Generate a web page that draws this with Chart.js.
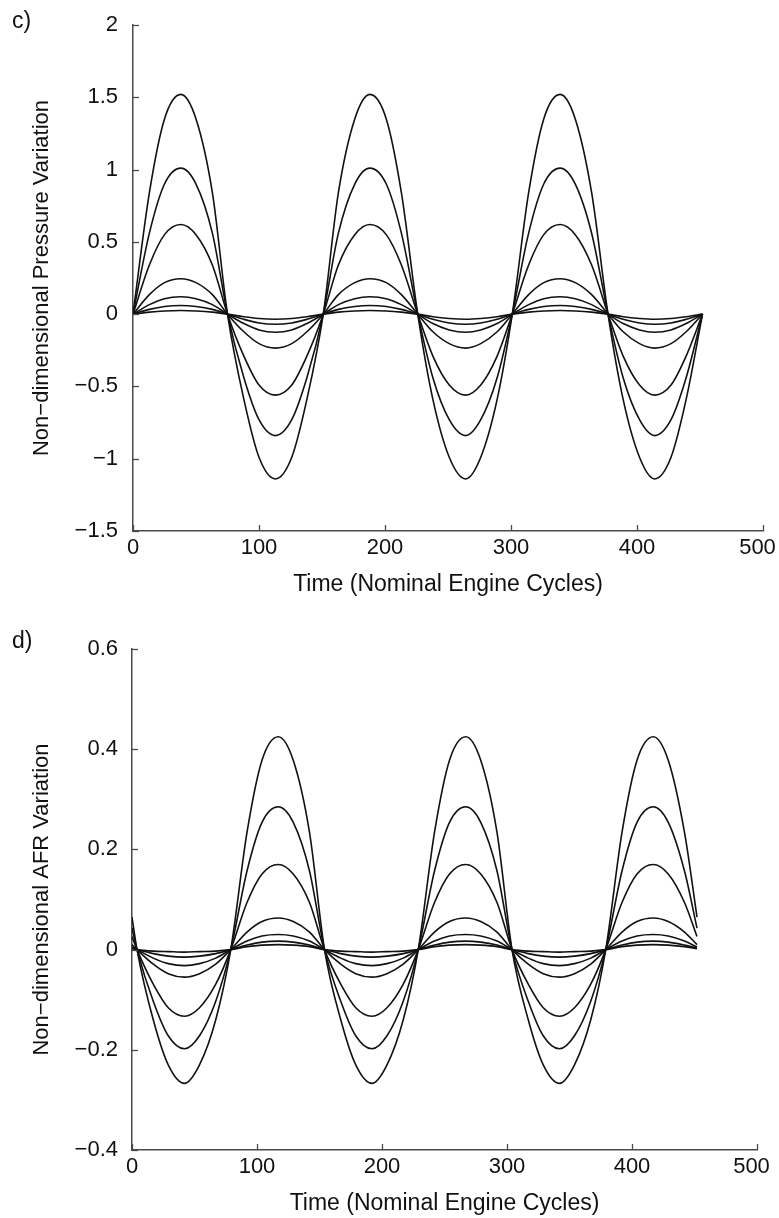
<!DOCTYPE html>
<html>
<head>
<meta charset="utf-8">
<script src="https://cdn.jsdelivr.net/npm/chart.js@4.4.0/dist/chart.umd.min.js"></script>
<style>
  body { margin: 0; background: #fff; width: 779px; height: 1218px; position: relative; overflow: hidden; font-family: 'Liberation Sans', Arial, sans-serif; }
  canvas { position: absolute; left: 0; }
  .panel { position: absolute; left: 12px; font-size: 23px; color: #111; line-height: 1; }
</style>
</head>
<body>
<canvas id="chartC" width="779" height="600" style="top:0px"></canvas>
<canvas id="chartD" width="779" height="599" style="top:619px"></canvas>
<div class="panel" style="top:9px">c)</div>
<div class="panel" style="top:629px">d)</div>
<script>
// c) pressure variation - sample times (cycles)
const cTime = [0,13,25,38,50,63,75,88,100,113,126,138,151,163,176,188,201,213,226,238,251,264,276,289,301,314,326,339,351,364,377,389,402,414,427,439,452];
const cPress1 = [0,0.84,1.35,1.52,1.35,0.84,0,-0.59,-0.99,-1.14,-0.99,-0.59,0,0.84,1.35,1.52,1.35,0.84,0,-0.59,-0.99,-1.14,-0.99,-0.59,0,0.84,1.35,1.52,1.35,0.84,0,-0.59,-0.99,-1.14,-0.99,-0.59,0];
const cPress2 = [0,0.56,0.90,1.01,0.90,0.56,0,-0.44,-0.73,-0.84,-0.73,-0.44,0,0.56,0.90,1.01,0.90,0.56,0,-0.44,-0.73,-0.84,-0.73,-0.44,0,0.56,0.90,1.01,0.90,0.56,0,-0.44,-0.73,-0.84,-0.73,-0.44,0];
const cPress3 = [0,0.34,0.55,0.62,0.55,0.34,0,-0.29,-0.49,-0.56,-0.49,-0.29,0,0.34,0.55,0.62,0.55,0.34,0,-0.29,-0.49,-0.56,-0.49,-0.29,0,0.34,0.55,0.62,0.55,0.34,0,-0.29,-0.49,-0.56,-0.49,-0.29,0];
const cPress4 = [0,0.135,0.218,0.245,0.218,0.135,0,-0.122,-0.204,-0.235,-0.204,-0.122,0,0.135,0.218,0.245,0.218,0.135,0,-0.122,-0.204,-0.235,-0.204,-0.122,0,0.135,0.218,0.245,0.218,0.135,0,-0.122,-0.204,-0.235,-0.204,-0.122,0];
const cPress5 = [0,0.066,0.107,0.12,0.107,0.066,0,-0.065,-0.109,-0.125,-0.109,-0.065,0,0.066,0.107,0.12,0.107,0.066,0,-0.065,-0.109,-0.125,-0.109,-0.065,0,0.066,0.107,0.12,0.107,0.066,0,-0.065,-0.109,-0.125,-0.109,-0.065,0];
const cPress6 = [0,0.033,0.053,0.06,0.053,0.033,0,-0.036,-0.061,-0.07,-0.061,-0.036,0,0.033,0.053,0.06,0.053,0.033,0,-0.036,-0.061,-0.07,-0.061,-0.036,0,0.033,0.053,0.06,0.053,0.033,0,-0.036,-0.061,-0.07,-0.061,-0.036,0];
const cPress7 = [0,0.014,0.022,0.025,0.022,0.014,0,-0.018,-0.030,-0.035,-0.030,-0.018,0,0.014,0.022,0.025,0.022,0.014,0,-0.018,-0.030,-0.035,-0.030,-0.018,0,0.014,0.022,0.025,0.022,0.014,0,-0.018,-0.030,-0.035,-0.030,-0.018,0];

// d) AFR variation
const dTime = [0,4,17,29,42,54,67,79,92,104,117,129,142,154,167,179,192,204,217,229,242,254,267,279,292,304,317,329,342,354,367,379,392,404,417,429,442,452];
const dAfr1 = [0.065,0,-0.14,-0.23,-0.267,-0.23,-0.14,0,0.234,0.378,0.425,0.378,0.234,0,-0.14,-0.23,-0.267,-0.23,-0.14,0,0.234,0.378,0.425,0.378,0.234,0,-0.14,-0.23,-0.267,-0.23,-0.14,0,0.234,0.378,0.425,0.378,0.234,0.065];
const dAfr2 = [0.043,0,-0.103,-0.172,-0.198,-0.172,-0.103,0,0.157,0.254,0.285,0.254,0.157,0,-0.103,-0.172,-0.198,-0.172,-0.103,0,0.157,0.254,0.285,0.254,0.157,0,-0.103,-0.172,-0.198,-0.172,-0.103,0,0.157,0.254,0.285,0.254,0.157,0.043];
const dAfr3 = [0.026,0,-0.069,-0.116,-0.133,-0.116,-0.069,0,0.094,0.151,0.17,0.151,0.094,0,-0.069,-0.116,-0.133,-0.116,-0.069,0,0.094,0.151,0.17,0.151,0.094,0,-0.069,-0.116,-0.133,-0.116,-0.069,0,0.094,0.151,0.17,0.151,0.094,0.026];
const dAfr4 = [0.01,0,-0.029,-0.048,-0.055,-0.048,-0.029,0,0.035,0.056,0.063,0.056,0.035,0,-0.029,-0.048,-0.055,-0.048,-0.029,0,0.035,0.056,0.063,0.056,0.035,0,-0.029,-0.048,-0.055,-0.048,-0.029,0,0.035,0.056,0.063,0.056,0.035,0.01];
const dAfr5 = [0.005,0,-0.017,-0.028,-0.032,-0.028,-0.017,0,0.017,0.027,0.03,0.027,0.017,0,-0.017,-0.028,-0.032,-0.028,-0.017,0,0.017,0.027,0.03,0.027,0.017,0,-0.017,-0.028,-0.032,-0.028,-0.017,0,0.017,0.027,0.03,0.027,0.017,0.005];
const dAfr6 = [0.003,0,-0.008,-0.013,-0.015,-0.013,-0.008,0,0.009,0.015,0.017,0.015,0.009,0,-0.008,-0.013,-0.015,-0.013,-0.008,0,0.009,0.015,0.017,0.015,0.009,0,-0.008,-0.013,-0.015,-0.013,-0.008,0,0.009,0.015,0.017,0.015,0.009,0.003];
const dAfr7 = [0.002,0,-0.003,-0.004,-0.005,-0.004,-0.003,0,0.006,0.009,0.01,0.009,0.006,0,-0.003,-0.004,-0.005,-0.004,-0.003,0,0.006,0.009,0.01,0.009,0.006,0,-0.003,-0.004,-0.005,-0.004,-0.003,0,0.006,0.009,0.01,0.009,0.006,0.002];

// axis ranges [min, max, step]
const xRange = [0, 500, 100];
const cYRange = [-1.5, 2, 0.5];
const dYRange = [-0.4, 0.6, 0.2];

const axisColor = '#4a4a4a';
const textColor = '#111';
const fontFamily = "'Liberation Sans', Arial, sans-serif";

// short tick marks pointing into the plot
const innerTicks = {
    id: 'innerTicks',
    afterDraw(chart) {
        const {ctx, chartArea, scales} = chart;
        ctx.save();
        ctx.strokeStyle = axisColor;
        ctx.lineWidth = 1.3;
        scales.x.ticks.forEach(t => {
            let px = Math.round(scales.x.getPixelForValue(t.value)) + 0.5;
            ctx.beginPath();
            ctx.moveTo(px, chartArea.bottom);
            ctx.lineTo(px, chartArea.bottom - 6);
            ctx.stroke();
        });
        scales.y.ticks.forEach(t => {
            let py = Math.round(scales.y.getPixelForValue(t.value)) + 0.5;
            ctx.beginPath();
            ctx.moveTo(chartArea.left, py);
            ctx.lineTo(chartArea.left + 6, py);
            ctx.stroke();
        });
        ctx.restore();
    }
};

function fmt(v) {
    let s = String(Math.round(v * 100) / 100);
    return s.replace('-', '\u2212');
}

// last x label sits a little left so it stays on the page
function fmtX(v) {
    return v === xRange[1] ? v + '\u2002' : String(v);
}

function makeChart(id, time, series, yRange, yTitle, g) {
    let datasets = series.map(ys => ({
        data: ys.map((y, i) => ({x: time[i], y: y})),
        borderColor: '#111',
        borderWidth: 1.6,
        pointRadius: 0,
        fill: false,
        cubicInterpolationMode: 'monotone'
    }));
    return new Chart(document.getElementById(id), {
        type: 'line',
        data: {datasets: datasets},
        plugins: [innerTicks],
        options: {
            responsive: false,
            animation: false,
            layout: {padding: {left: 0, top: g.top, right: g.right, bottom: 0}},
            plugins: {legend: {display: false}, tooltip: {enabled: false}},
            scales: {
                x: {
                    type: 'linear',
                    min: xRange[0], max: xRange[1],
                    grid: {display: false, drawTicks: false},
                    border: {display: true, color: axisColor, width: 1.5},
                    ticks: {stepSize: xRange[2], padding: 4, color: textColor, font: {family: fontFamily, size: 22}, maxRotation: 0, callback: fmtX},
                    title: {display: true, text: 'Time (Nominal Engine Cycles)', color: textColor, font: {family: fontFamily, size: 23}, padding: {top: 0, bottom: g.titleBottom}},
                    afterFit: s => { s.height = g.xHeight; s.paddingLeft = 0; s.paddingRight = 0; }
                },
                y: {
                    min: yRange[0], max: yRange[1],
                    grid: {display: false, drawTicks: false},
                    border: {display: true, color: axisColor, width: 1.5},
                    ticks: {stepSize: yRange[2], padding: g.tickPad, color: textColor, font: {family: fontFamily, size: 22}, callback: fmt},
                    title: {display: true, text: yTitle, color: textColor, font: {family: fontFamily, size: 22}, padding: {top: 29, bottom: 0}},
                    afterFit: s => { s.width = g.yWidth; s.paddingTop = 0; s.paddingBottom = 0; }
                }
            }
        }
    });
}

makeChart('chartC', cTime, [cPress1, cPress2, cPress3, cPress4, cPress5, cPress6, cPress7], cYRange,
    'Non\u2212dimensional Pressure Variation',
    {top: 25, right: 16, xHeight: 69, yWidth: 133, tickPad: 15, titleBottom: 2});

makeChart('chartD', dTime, [dAfr1, dAfr2, dAfr3, dAfr4, dAfr5, dAfr6, dAfr7], dYRange,
    'Non\u2212dimensional AFR Variation',
    {top: 30, right: 22, xHeight: 68, yWidth: 132, tickPad: 14, titleBottom: 1});
</script>
</body>
</html>
